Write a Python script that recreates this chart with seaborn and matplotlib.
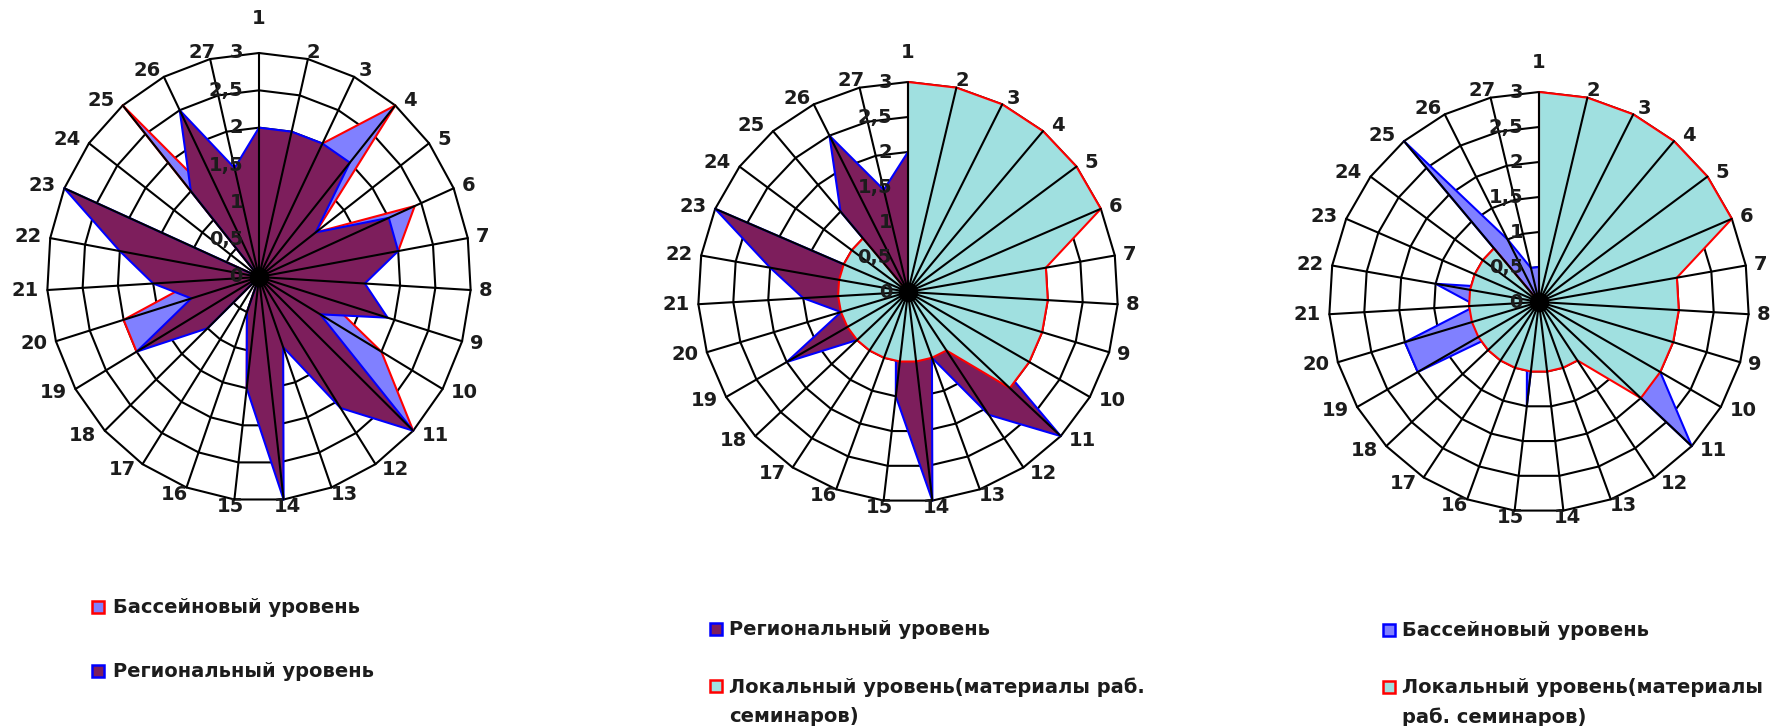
import numpy as np
import pandas as pd
import matplotlib
matplotlib.use("Agg")
import matplotlib.pyplot as plt
from matplotlib.patches import Rectangle
import seaborn as sns

# ---------------- data ----------------
categories = [str(i) for i in range(1, 28)]
bassein = [0.5, 1.0, 2.0, 3.0, 1.0, 2.4, 2.0, 1.0, 1.0, 2.0, 3.0, 0.0, 0.0, 0.0,
           1.5, 0.5, 0.0, 0.5, 2.0, 2.0, 0.9, 1.5, 0.5, 0.0, 3.0, 1.0, 0.5]
regional = [2.0, 2.0, 2.0, 2.0, 1.0, 2.0, 2.0, 1.5, 1.9, 1.0, 3.0, 2.1, 1.0, 3.0,
            1.5, 0.5, 0.0, 1.0, 2.0, 1.0, 1.5, 2.0, 3.0, 0.0, 1.5, 2.5, 1.5]
local = [3.0, 3.0, 3.0, 3.0, 3.0, 3.0, 2.0, 2.0, 2.0, 2.0, 2.0, 1.0, 1.0, 1.0,
         1.0, 1.0, 1.0, 1.0, 1.0, 1.0, 1.0, 1.0, 1.0, 1.0, 1.0, 0.0, 0.0]
radial_ticks = [0, 0.5, 1, 1.5, 2, 2.5, 3]
radial_labels = ["0", "0,5", "1", "1,5", "2", "2,5", "3"]

name_bassein = "Бассейновый уровень"
name_regional = "Региональный уровень"
name_local_2 = "Локальный уровень(материалы раб.\nсеминаров)"
name_local_3 = "Локальный уровень(материалы\nраб. семинаров)"

# ---------------- style ----------------
sns.set_theme(style="white")
plt.rcParams['font.family'] = ['DejaVu Sans']

C_BASS = "#8080FF"
C_REG = "#7D1E5C"
C_LOC = "#A0E0E0"
RED = "#FF0000"
BLUE = "#0000FF"
TXT = "#1c1c1c"
FS = 14

W, H = 1773, 726
fig = plt.figure(figsize=(W / 100, H / 100), dpi=100)
fig.patch.set_facecolor("white")

N = len(categories)
theta = np.arange(N) * 2 * np.pi / N
RMAX = 3.0


def make_ax(cx, cy, rx, ry):
    ax = fig.add_axes([(cx - rx) / W, (H - cy - ry) / H, 2 * rx / W, 2 * ry / H],
                      projection="polar")
    ax.set_aspect("auto")
    ax.set_theta_zero_location("N")
    ax.set_theta_direction(-1)
    ax.set_ylim(0, RMAX)
    ax.set_xticks([])
    ax.set_yticks([])
    ax.grid(False)
    ax.spines["polar"].set_visible(False)
    ax.set_facecolor("none")
    tc = np.append(theta, theta[0])
    for r in radial_ticks[1:]:
        ax.plot(tc, [r] * (N + 1), color="black", lw=1.5, zorder=1, clip_on=False)
    return ax


def series(ax, values, face, edge, z):
    tc = np.append(theta, theta[0])
    vc = np.append(values, values[0])
    ax.fill(tc, vc, color=face, zorder=z, lw=0, clip_on=False)
    df = pd.DataFrame({"theta": tc, "r": vc})
    sns.lineplot(data=df, x="theta", y="r", sort=False, estimator=None,
                 color=edge, lw=1.5, ax=ax, zorder=z + 0.5, clip_on=False)


def decorate(ax, top_gap):
    for t in theta:
        ax.plot([t, t], [0, RMAX], color="black", lw=1.5, zorder=5, clip_on=False)
    ax.scatter([0], [0], s=170, color="black", zorder=6, clip_on=False)
    ax.set_xlabel("")
    ax.set_ylabel("")
    for r, lab in zip(radial_ticks, radial_labels):
        ax.annotate(lab, xy=(0, r), xytext=(-16, 0), textcoords="offset pixels",
                    ha="right", va="center", fontsize=FS, fontweight="bold",
                    color=TXT, zorder=7, annotation_clip=False)
    for t, lab in zip(theta, categories):
        half_w = 7.0 * len(lab)
        s, c = np.sin(t), np.cos(t)
        dx = np.sign(s) * (half_w + 8) * min(1.0, abs(s) / 0.6)
        dy = 7.0 * c
        if lab == "1":
            dx, dy = 0, top_gap
        ax.annotate(lab, xy=(t, RMAX), xytext=(dx, dy),
                    textcoords="offset pixels", ha="center", va="center",
                    fontsize=FS, fontweight="bold", color=TXT,
                    annotation_clip=False)


def legend(items, xs, xt, ys):
    for (face, edge, label), y in zip(items, ys):
        fig.add_artist(Rectangle((xs / W, 1 - (y + 6) / H), 12 / W, 12 / H,
                                 transform=fig.transFigure, facecolor=face,
                                 edgecolor=edge, lw=1.8))
        fig.text(xt / W, 1 - (y - 9) / H, label, ha="left", va="top",
                 fontsize=FS, fontweight="bold", color=TXT, linespacing=1.7)


# ---------------- chart 1 ----------------
ax1 = make_ax(259, 277, 212, 224)
series(ax1, bassein, C_BASS, RED, 2)
series(ax1, regional, C_REG, BLUE, 3)
decorate(ax1, 35)
legend([(C_BASS, RED, name_bassein), (C_REG, BLUE, name_regional)],
       92, 113, [607, 671])

# ---------------- chart 2 ----------------
ax2 = make_ax(908, 292, 210, 210)
series(ax2, regional, C_REG, BLUE, 2)
series(ax2, local, C_LOC, RED, 3)
decorate(ax2, 29)
legend([(C_REG, BLUE, name_regional), (C_LOC, RED, name_local_2)],
       710, 729, [629, 686])

# ---------------- chart 3 ----------------
ax3 = make_ax(1539, 302, 210, 210)
series(ax3, bassein, C_BASS, BLUE, 2)
series(ax3, local, C_LOC, RED, 3)
decorate(ax3, 30)
legend([(C_BASS, BLUE, name_bassein), (C_LOC, RED, name_local_3)],
       1383, 1402, [630, 687])

fig.savefig("out.png", dpi=100, facecolor="white")
